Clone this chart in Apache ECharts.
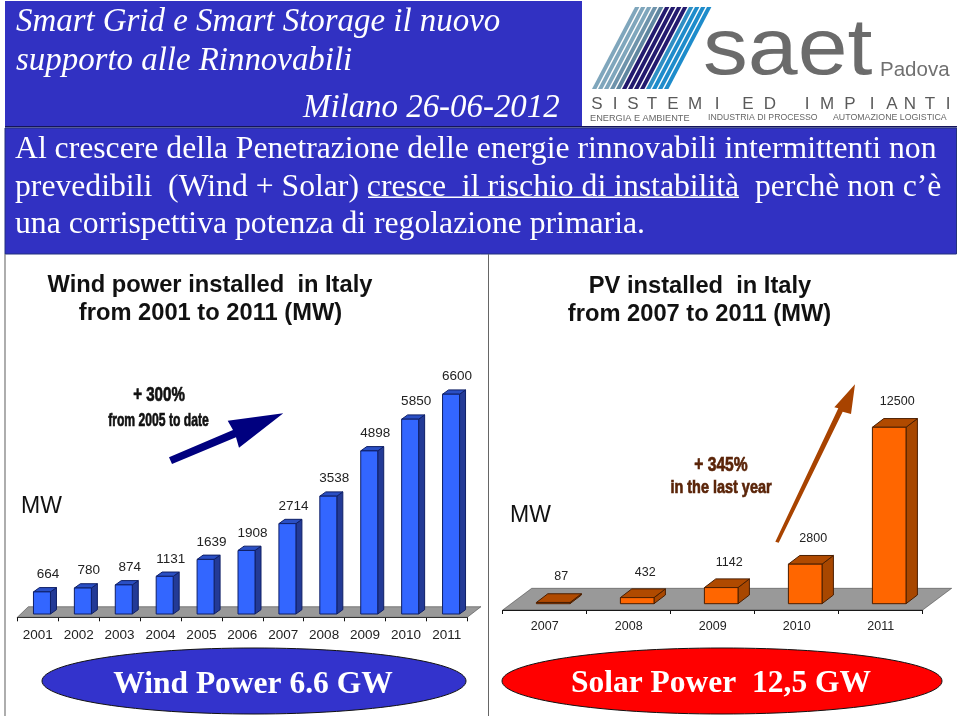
<!DOCTYPE html>
<html><head><meta charset="utf-8">
<style>html,body{margin:0;padding:0;background:#fff}#c{width:960px;height:716px}</style>
<script src="https://cdn.jsdelivr.net/npm/echarts@6/dist/echarts.min.js"></script>
</head><body><div id="c"></div>
<script>
// ---- data ----
var windYears = ['2001','2002','2003','2004','2005','2006','2007','2008','2009','2010','2011'];
var windValues = [664,780,874,1131,1639,1908,2714,3538,4898,5850,6600];
var solarYears = ['2007','2008','2009','2010','2011'];
var solarValues = [87,432,1142,2800,12500];

var titleLines = ['Smart Grid e Smart Storage il nuovo','supporto alle Rinnovabili','Milano 26-06-2012'];
var bodyLines = ['Al crescere della Penetrazione delle energie rinnovabili intermittenti non',
  'prevedibili  (Wind + Solar) cresce  il rischio di instabilità  perchè non c’è',
  'una corrispettiva potenza di regolazione primaria.'];

// ---- styles ----
var windStyle = {shift:4.2,w:17,dx:6,dy:4.3,front:'#3366FF',top:'#2A4FC4',side:'#233A96',edge:'#0F1F66',lx:6,ly:17.5,font:'13.5px "Liberation Sans"',
  floor:{bl:-3.3,dxL:11,dxR:13.7,back:-7.3,front:3.3}};
var solarStyle = {shift:8.5,w:33.6,dx:11.4,dy:8.7,front:'#FF6600',top:'#B04A00',side:'#A84700',edge:'#4A1E00',lx:8,ly:25.5,font:'12.5px "Liberation Sans"',
  floor:{bl:0,dxL:29,dxR:29,back:-15.4,front:6.3}};

function barRenderer(st){
  return function(params,api){
    var i=api.value(0), v=api.value(1);
    var base=api.coord([i,0]), top=api.coord([i,v]);
    var x=base[0]+st.shift-st.w/2, r=x+st.w, y0=base[1], y1=top[1];
    var ln={stroke:st.edge,lineWidth:1};
    return {type:'group',children:[
      {type:'polygon',shape:{points:[[r,y1],[r+st.dx,y1-st.dy],[r+st.dx,y0-st.dy],[r,y0]]},style:Object.assign({fill:st.side},ln)},
      {type:'polygon',shape:{points:[[x,y1],[x+st.dx,y1-st.dy],[r+st.dx,y1-st.dy],[r,y1]]},style:Object.assign({fill:st.top},ln)},
      {type:'rect',shape:{x:x,y:y1,width:st.w,height:y0-y1},style:Object.assign({fill:st.front},ln)},
      {type:'text',style:{text:String(v),x:x+st.w/2+st.lx,y:y1-st.ly,textAlign:'center',textVerticalAlign:'middle',align:'center',verticalAlign:'middle',font:st.font,fill:'#222'}}
    ]};
  };
}
function floorRenderer(st){
  return function(params){
    var c=params.coordSys, f=st.floor, b=c.y+c.height, l=c.x, r=c.x+c.width;
    return {type:'polygon',shape:{points:[[l,b+f.front],[r,b+f.front],[r+f.dxR,b+f.back],[l+f.dxL,b+f.back]]},
      style:{fill:'#999999',stroke:'#333',lineWidth:0.5}};
  };
}
function toPairs(a){return a.map(function(v,i){return [i,v];});}

function T(text,x,y,font,fill,align,extra,strokeW,strokeC){
  var s={text:text,x:0,y:0,font:font,fill:fill,textAlign:align||'left',align:align||'left',textVerticalAlign:'middle',verticalAlign:'middle'};
  if(strokeW){s.stroke=strokeC||fill;s.lineWidth=strokeW;}
  return Object.assign({type:'text',silent:true,x:x,y:y,style:s},extra||{});
}
var BLUE='#3131C2', SER='"Liberation Serif"', SAN='"Liberation Sans"';
var g=[];
// header panels
g.push({type:'rect',shape:{x:5,y:1,width:577,height:125},style:{fill:BLUE}});
g.push({type:'rect',shape:{x:5,y:126,width:952,height:1.5},style:{fill:'#14145A'}});
g.push({type:'rect',shape:{x:5,y:128,width:951.5,height:126},style:{fill:BLUE,stroke:'#23307F',lineWidth:1}});
// slide frame
g.push({type:'line',shape:{x1:5,y1:254,x2:5,y2:716},style:{stroke:'#777',lineWidth:1.2}});
g.push({type:'line',shape:{x1:488.5,y1:254,x2:488.5,y2:716},style:{stroke:'#666',lineWidth:1}});
// title
g.push(T(titleLines[0],16,22,'italic 32.9px '+SER,'#fff'));
g.push(T(titleLines[1],16,61,'italic 32.9px '+SER,'#fff'));
g.push(T(titleLines[2],303,108,'italic 32.9px '+SER,'#fff'));
// body
g.push(T(bodyLines[0],15,149.5,'31.7px '+SER,'#fff'));
g.push(T(bodyLines[1],15,187.5,'31.7px '+SER,'#fff'));
g.push(T(bodyLines[2],15,224.5,'31.7px '+SER,'#fff'));
g.push({type:'rect',shape:{x:368,y:196.5,width:371,height:1.4},style:{fill:'#fff'}});
// logo
var stripeCols=['#7FA6BC','#7FA6BC','#7FA6BC','#6E93AB','#5F86A0','#231A6E','#231A6E','#231A6E','#231A6E','#2F8FC4','#1E8CCB','#1E8CCB','#1E8CCB'];
stripeCols.forEach(function(col,i){
  var x=635+i*6, w=4.4;
  g.push({type:'polygon',shape:{points:[[x,7],[x+w,7],[x+w-43,89],[x-43,89]]},style:{fill:col}});
});
g.push(T('saet',703,52,'80px '+SAN,'#6B6B6B','left',{scaleX:1.12,originX:0},2,'#fff'));
g.push(T('Padova',880,70,'20.5px '+SAN,'#707070','left',null,0.5,'#fff'));
var logoLetters=[['S',597],['I',615],['S',633],['T',652],['E',673],['M',695],['I',717],['E',748],['D',770],['I',807],['M',827],['P',850],['I',872],['A',892],['N',910],['T',930],['I',948]];
logoLetters.forEach(function(p){ g.push(T(p[0],p[1],104,'17px '+SAN,'#5A5A5A','center',null,0.4,'#fff')); });
g.push(T('ENERGIA E AMBIENTE',590,118,'9.2px '+SAN,'#666'));
g.push(T('INDUSTRIA DI PROCESSO',708,118,'8.7px '+SAN,'#666'));
g.push(T('AUTOMAZIONE LOGISTICA',833,118,'8.8px '+SAN,'#666'));
// chart titles
g.push(T('Wind power installed  in Italy',210,285,'bold 23.7px '+SAN,'#111','center'));
g.push(T('from 2001 to 2011 (MW)',210.5,313,'bold 23.7px '+SAN,'#111','center'));
g.push(T('PV installed  in Italy',700,286,'bold 23.7px '+SAN,'#111','center'));
g.push(T('from 2007 to 2011 (MW)',699.5,314,'bold 23.7px '+SAN,'#111','center'));
// MW
g.push(T('MW',21,507,'23px '+SAN,'#111'));
g.push(T('MW',510,516,'23px '+SAN,'#111'));
// annotations
g.push(T('+ 300%',159,395,'bold 21px '+SAN,'#111','center',{scaleX:0.72,originX:0},0.7));
g.push(T('from 2005 to date',158.5,421,'bold 19px '+SAN,'#111','center',{scaleX:0.64,originX:0},0.7));
g.push(T('+ 345%',721,465,'bold 20px '+SAN,'#5A2408','center',{scaleX:0.78,originX:0},0.7));
g.push(T('in the last year',721,488,'bold 19px '+SAN,'#5A2408','center',{scaleX:0.76,originX:0},0.7));
// arrows
g.push({type:'polygon',shape:{points:[[169,457.3],[233,430],[227.7,420.7],[283.3,413.3],[239,447.7],[236,437.3],[172,464]]},style:{fill:'#00007F'}});
g.push({type:'polygon',shape:{points:[[775.3,541.7],[838.3,408.3],[834.3,407.3],[855,384.3],[851,414],[842.7,411.7],[778.7,542.7]]},style:{fill:'#A84300'}});
// ellipses
g.push({type:'ellipse',shape:{cx:254,cy:681,rx:212,ry:33},style:{fill:'#3333CC',stroke:'#111',lineWidth:1}});
g.push({type:'ellipse',shape:{cx:722,cy:681,rx:220,ry:33},style:{fill:'#FF0000',stroke:'#111',lineWidth:1}});
g.push(T('Wind Power 6.6 GW',253,685,'bold 31.5px '+SER,'#fff','center'));
g.push(T('Solar Power  12,5 GW',721,684,'bold 31.5px '+SER,'#fff','center'));

function xAxis(idx,data,offset,fs,margin){
  return {type:'category',gridIndex:idx,data:data,offset:offset,
    axisLine:{show:true,onZero:false,lineStyle:{color:'#111',width:1}},
    axisTick:{show:true,length:4,lineStyle:{color:'#111'}},
    axisLabel:{margin:margin,fontSize:fs,fontFamily:'Liberation Sans',color:'#222',interval:0},splitLine:{show:false}};
}
function yAxis(idx,max){
  return {type:'value',gridIndex:idx,min:0,max:max,show:false,splitLine:{show:false}};
}
var option={
  animation:false,backgroundColor:'#fff',
  graphic:{elements:g},
  grid:[
    {left:17.3,width:450,top:380.9,height:233.1},
    {left:502.7,width:420,top:406.1,height:197.6}
  ],
  xAxis:[xAxis(0,windYears,3.3,13.5,11),xAxis(1,solarYears,6.3,12.5,10)],
  yAxis:[yAxis(0,7000),yAxis(1,14000)],
  series:[
    {type:'custom',name:'floorW',xAxisIndex:0,yAxisIndex:0,data:[[0,0]],z:1,silent:true,renderItem:floorRenderer(windStyle)},
    {type:'custom',name:'floorS',xAxisIndex:1,yAxisIndex:1,data:[[0,0]],z:1,silent:true,renderItem:floorRenderer(solarStyle)},
    {type:'custom',name:'Wind',xAxisIndex:0,yAxisIndex:0,data:toPairs(windValues),z:3,encode:{x:0,y:1},renderItem:barRenderer(windStyle)},
    {type:'custom',name:'Solar',xAxisIndex:1,yAxisIndex:1,data:toPairs(solarValues),z:3,encode:{x:0,y:1},renderItem:barRenderer(solarStyle)}
  ]
};
var chart=echarts.init(document.getElementById('c'),null,{renderer:'canvas',width:960,height:716});
chart.setOption(option);
</script></body></html>
